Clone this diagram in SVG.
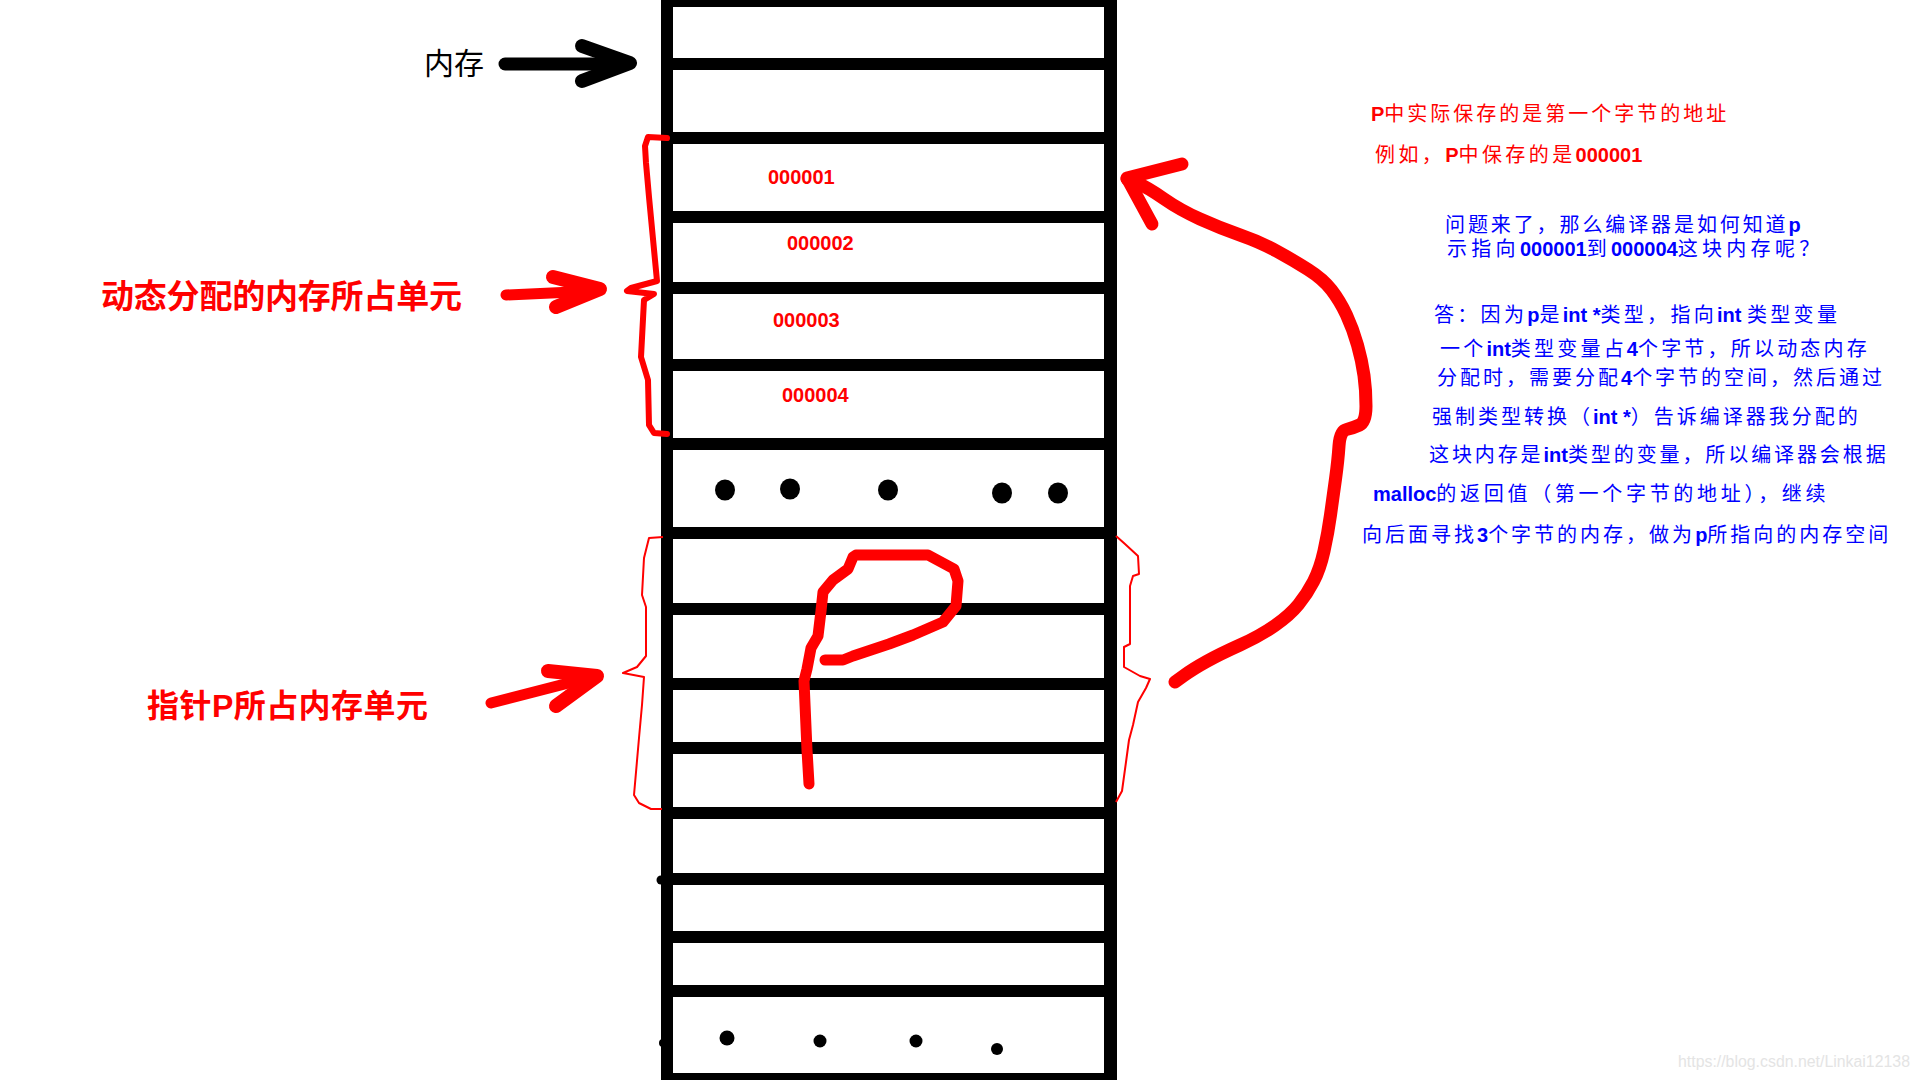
<svg xmlns="http://www.w3.org/2000/svg" width="1920" height="1080" viewBox="0 0 1920 1080">
<style>
.bar{fill:#000}
.hl{stroke:#000;stroke-width:12;stroke-linecap:butt}
.dot{fill:#000}
.addr{font-family:"Liberation Sans",Arial,sans-serif;font-weight:bold;font-size:20px;fill:#f00}
.lbl{font-family:"Liberation Sans","Noto Sans CJK SC",sans-serif;font-weight:bold;fill:#f00}
.note{font-family:"Liberation Sans","Noto Sans CJK SC",sans-serif;font-size:20px}
.red{fill:#f00}
.blue{fill:#00f}
.b{font-weight:bold;letter-spacing:0}
.thick{fill:none;stroke:#f00;stroke-linecap:round;stroke-linejoin:round}
.thin{fill:none;stroke:#f00;stroke-width:2;stroke-linejoin:round}
</style>
<rect width="1920" height="1080" fill="#fff"/>

<g id="memory">
  <rect class="bar" x="661" y="0" width="12" height="1080"/>
  <rect class="bar" x="1104" y="0" width="13" height="1080"/>
  <rect class="bar" x="661" y="0" width="456" height="7"/>
  <rect class="bar" x="661" y="1073" width="456" height="7"/>
  <g>
    <line class="hl" x1="667" y1="64" x2="1110" y2="64"/>
    <line class="hl" x1="667" y1="138" x2="1110" y2="138"/>
    <line class="hl" x1="667" y1="217" x2="1110" y2="217"/>
    <line class="hl" x1="667" y1="288" x2="1110" y2="288"/>
    <line class="hl" x1="667" y1="365" x2="1110" y2="365"/>
    <line class="hl" x1="667" y1="444" x2="1110" y2="444"/>
    <line class="hl" x1="667" y1="533" x2="1110" y2="533"/>
    <line class="hl" x1="667" y1="609" x2="1110" y2="609"/>
    <line class="hl" x1="667" y1="684" x2="1110" y2="684"/>
    <line class="hl" x1="667" y1="748" x2="1110" y2="748"/>
    <line class="hl" x1="667" y1="813" x2="1110" y2="813"/>
    <line class="hl" x1="667" y1="879" x2="1110" y2="879"/>
    <line class="hl" x1="667" y1="937" x2="1110" y2="937"/>
    <line class="hl" x1="667" y1="991" x2="1110" y2="991"/>
  </g>
  <g id="dots-top">
    <ellipse class="dot" cx="725" cy="490" rx="10" ry="10.5"/>
    <ellipse class="dot" cx="790" cy="489" rx="10" ry="10.5"/>
    <ellipse class="dot" cx="888" cy="490" rx="10" ry="10.5"/>
    <ellipse class="dot" cx="1002" cy="493" rx="10" ry="10.5"/>
    <ellipse class="dot" cx="1058" cy="493" rx="10" ry="10.5"/>
  </g>
  <g id="dots-bottom">
    <circle class="dot" cx="727" cy="1038" r="7.5"/>
    <circle class="dot" cx="820" cy="1041" r="6.5"/>
    <circle class="dot" cx="916" cy="1041" r="6.5"/>
    <circle class="dot" cx="997" cy="1049" r="6"/>
    <circle class="dot" cx="661" cy="880" r="4.5"/>
    <circle class="dot" cx="663" cy="1043" r="4"/>
  </g>
</g>

<g id="addresses">
  <text class="addr" x="768" y="184">000001</text>
  <text class="addr" x="787" y="250">000002</text>
  <text class="addr" x="773" y="327">000003</text>
  <text class="addr" x="782" y="402">000004</text>
</g>

<g id="label-memory">
  <text x="424" y="74" font-family="'Noto Sans CJK SC',sans-serif" font-size="30" fill="#000" textLength="60" lengthAdjust="spacing">内存</text>
</g>
<g id="label-dynamic">
  <text class="lbl" x="101" y="308" font-size="33" textLength="361" lengthAdjust="spacing">动态分配的内存所占单元</text>
</g>
<g id="label-pointer">
  <text class="lbl" x="147" y="717" font-size="32" textLength="281" lengthAdjust="spacing">指针P所占内存单元</text>
</g>

<g id="braces">
  <polyline class="thick" stroke-width="6" points="667,138 648,137 645,146 646,163 649,197 655,260 657,281 631,288 627,291 654,294 644,300 641,357 648,380 649,425 654,433 667,434"/>
  <polyline class="thin" points="663,537 649,538 644,558 642,595 646,607 646,656 637,667 623,673 644,677 642,705 639,738 634,795 639,803 651,809 662,809"/>
  <polyline class="thin" points="1116,536 1125,544 1138,556 1139,574 1133,576 1130,586 1130,644 1124,647 1124,667 1140,676 1150,679 1146,688 1138,702 1133,725 1129,740 1126,762 1122,791 1116,802"/>
</g>

<g id="pointer-p">
  <polyline class="thick" stroke-width="11" points="809,784 807,750 804,681 807,669 811,648 818,636 821,611 823,592 833,580 848,569 853,557 856,555 928,555 954,569 958,581 956,606 943,622 913,635 889,644 853,656 843,660 825,660"/>
</g>

<g id="connectors">
  <g id="arrow-memory">
    <line x1="505" y1="64" x2="626" y2="64" stroke="#000" stroke-width="13" stroke-linecap="round"/>
    <polyline points="582,46 630,63 582,81" fill="none" stroke="#000" stroke-width="14" stroke-linecap="round" stroke-linejoin="round"/>
  </g>
  <g id="arrow-dynamic">
    <line x1="506" y1="295" x2="594" y2="291" stroke="#f00" stroke-width="11" stroke-linecap="round"/>
    <polyline points="553,277 600,289 556,307" fill="none" stroke="#f00" stroke-width="14" stroke-linecap="round" stroke-linejoin="round"/>
  </g>
  <g id="arrow-pointer">
    <line x1="491" y1="703" x2="592" y2="677" stroke="#f00" stroke-width="11" stroke-linecap="round"/>
    <polyline points="548,671 597,676 556,706" fill="none" stroke="#f00" stroke-width="14" stroke-linecap="round" stroke-linejoin="round"/>
  </g>
  <g id="arrow-curve">
    <path class="thick" stroke-width="13" d="M1175,682 L1184,675.5 Q1193,669 1206.5,661.5 Q1220,654 1240,645 Q1260,636 1275,625.5 Q1290,615 1298.5,604.5 Q1307,594 1313.5,581.5 Q1320,569 1324,551 Q1328,533 1330.5,515 Q1333,497 1335.5,479 Q1338,461 1339,446 Q1340,431 1346.5,429.5 Q1353,428 1359.5,425 Q1366,422 1366,406 Q1366,390 1364,375.5 Q1362,361 1357.5,345 Q1353,329 1346.5,315 Q1340,301 1331.5,290 Q1323,279 1308,269.5 Q1293,260 1276.5,251 Q1260,242 1240,235 Q1220,228 1200,219 Q1180,210 1163.5,198.5 Q1147,187 1137,183 L1127,179"/>
    <polyline class="thick" stroke-width="13" points="1182,164 1127,178 1152,224"/>
  </g>
</g>

<g id="notes">
  <text class="note red" x="1371" y="121" letter-spacing="3.0"><tspan class="b">P</tspan>中实际保存的是第一个字节的地址</text>
  <text class="note red" x="1375" y="161.5" letter-spacing="3.4">例如，<tspan class="b">P</tspan>中保存的是<tspan class="b">000001</tspan></text>
  <text class="note blue" x="1445" y="231.5" letter-spacing="2.9">问题来了，那么编译器是如何知道<tspan class="b">p</tspan></text>
  <text class="note blue" x="1447" y="255.5" letter-spacing="4.3">示指向<tspan class="b">000001</tspan>到<tspan class="b">000004</tspan>这块内存呢？</text>
  <text class="note blue" x="1434" y="321.5" letter-spacing="3.3">答：因为<tspan class="b">p</tspan>是<tspan class="b">int *</tspan>类型，指向<tspan class="b">int </tspan>类型变量</text>
  <text class="note blue" x="1440" y="355.5" letter-spacing="3.2">一个<tspan class="b">int</tspan>类型变量占<tspan class="b">4</tspan>个字节，所以动态内存</text>
  <text class="note blue" x="1437" y="384.5" letter-spacing="3.0">分配时，需要分配<tspan class="b">4</tspan>个字节的空间，然后通过</text>
  <text class="note blue" x="1432" y="423.5" letter-spacing="3.0">强制类型转换（<tspan class="b">int *</tspan>）告诉编译器我分配的</text>
  <text class="note blue" x="1429" y="461.5" letter-spacing="2.9">这块内存是<tspan class="b">int</tspan>类型的变量，所以编译器会根据</text>
  <text class="note blue" x="1373" y="500.5" letter-spacing="3.7"><tspan class="b">malloc</tspan>的返回值（第一个字节的地址），继续</text>
  <text class="note blue" x="1362" y="541.5" letter-spacing="3.0">向后面寻找<tspan class="b">3</tspan>个字节的内存，做为<tspan class="b">p</tspan>所指向的内存空间</text>
</g>

<text x="1678" y="1067" font-family="'Liberation Sans',Arial,sans-serif" font-size="16" fill="#e4e4e4" textLength="232" lengthAdjust="spacingAndGlyphs">https://blog.csdn.net/Linkai12138</text>
</svg>
